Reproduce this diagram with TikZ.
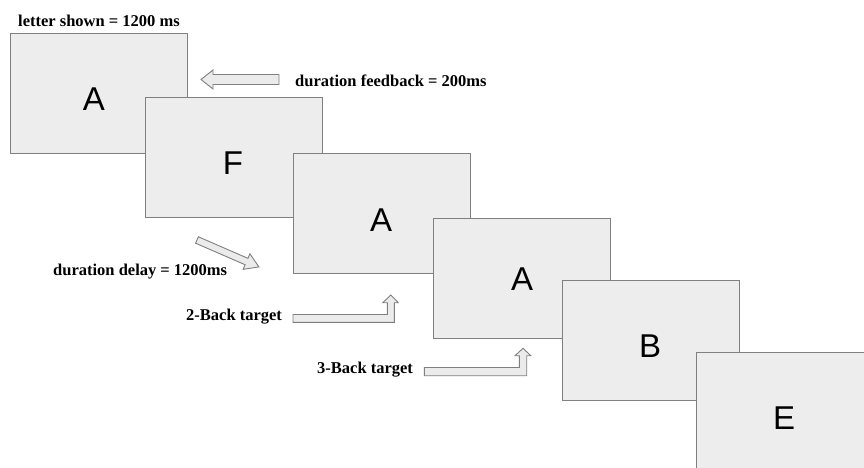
\documentclass[tikz,border=0pt]{standalone}
\usepackage{fontspec}
\setmainfont{Liberation Serif}
\newfontfamily\letterfont{Liberation Sans}
\definecolor{boxfill}{HTML}{EDEDED}
\definecolor{boxgray}{HTML}{808080}
\definecolor{arrfill}{HTML}{EBEBEB}
\definecolor{arrgray}{HTML}{7F7F7F}
\begin{document}
\begin{tikzpicture}[x=1pt,y=-1pt,
  screen/.style={draw=boxgray, fill=boxfill, line width=1.1pt, minimum width=177pt, minimum height=120pt, inner sep=0pt, anchor=north west},
  letter/.style={font=\letterfont\fontsize{33}{33}\selectfont, inner sep=0pt},
  lbl/.style={font=\bfseries\fontsize{16.5}{18}\selectfont, inner sep=0pt, anchor=base west},
  hollow/.style={draw=arrgray, fill=arrfill, line width=0.9pt, line join=miter}]
\useasboundingbox (0,0) rectangle (864,467);

\node[screen] (s1) at (10,33) {};
\node[letter] (l1) at (94,99) {A};
\node[screen] (s2) at (145,97) {};
\node[letter] (l2) at (233,163) {F};
\node[screen] (s3) at (293,152.5) {};
\node[letter] (l3) at (381,220) {A};
\node[screen] (s4) at (433,217.5) {};
\node[letter] (l4) at (522,279) {A};
\node[screen] (s5) at (562,280) {};
\node[letter] (l5) at (650,346.5) {B};
\node[screen] (s6) at (696,352) {};
\node[letter] (l6) at (784,418.5) {E};

\node[lbl] (t1) at (18,26) {letter shown = 1200 ms};
\node[lbl] (t2) at (295,86) {duration feedback = 200ms};
\node[lbl] (t3) at (53,275) {duration delay = 1200ms};
\node[lbl] (t4) at (186,320) {2-Back target};
\node[lbl] (t5) at (317,373) {3-Back target};

% feedback arrow (points left)
\draw[hollow] (279,74.5) -- (213,74.5) -- (213,70) -- (201,79.5) -- (213,89) -- (213,84.5) -- (279,84.5) -- cycle;

% delay arrow (diagonal)
\begin{scope}[shift={(197,240)}, rotate=-23.5]
\draw[hollow] (0,-3.5) -- (54,-3.5) -- (54,-8.5) -- (67.5,0) -- (54,8.5) -- (54,3.5) -- (0,3.5) -- cycle;
\end{scope}

% 2-back elbow arrow
\draw[hollow] (293,314.5) -- (387.3,314.5) -- (387.3,302.7) -- (382.8,302.7) -- (390.8,295) -- (398.3,302.7) -- (394.3,302.7) -- (394.3,322.3) -- (293,322.3) -- cycle;

% 3-back elbow arrow
\draw[hollow] (424.3,367.5) -- (519.3,367.5) -- (519.3,355.7) -- (515,355.7) -- (523,348.3) -- (530.8,355.7) -- (526.7,355.7) -- (526.7,375.7) -- (424.3,375.7) -- cycle;
\end{tikzpicture}
\end{document}
